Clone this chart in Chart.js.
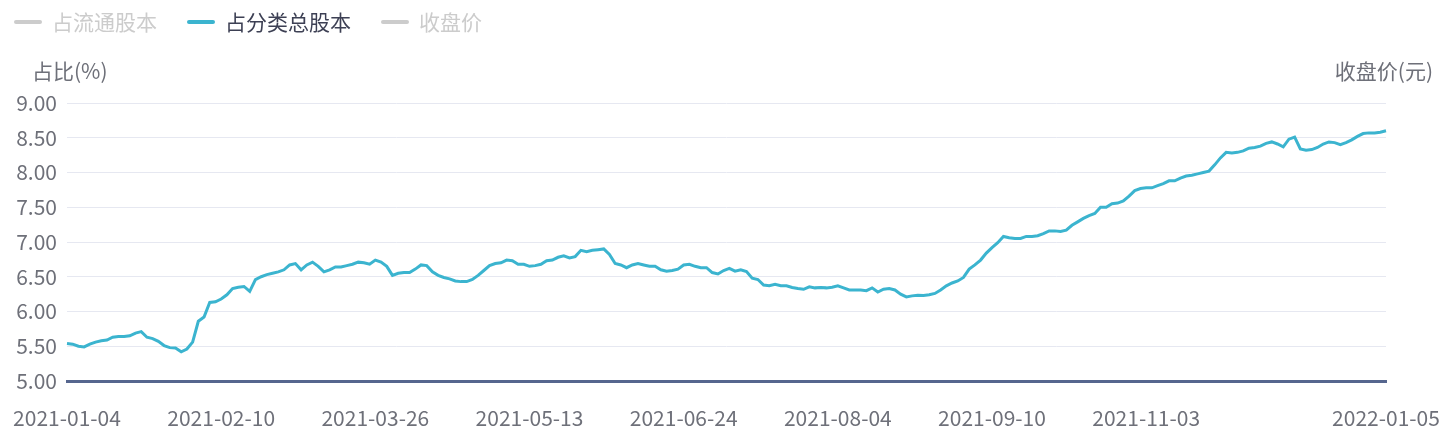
<!DOCTYPE html>
<html>
<head>
<meta charset="utf-8">
<script src="https://cdn.jsdelivr.net/npm/chart.js@4.4.0/dist/chart.umd.min.js"></script>
<style>
  html, body { margin: 0; padding: 0; background: #fff; }
  #wrap { width: 1452px; height: 444px; }
</style>
</head>
<body>
<div id="wrap"><canvas id="myChart" width="1452" height="444"></canvas></div>
<script>
// trading days (Stock Connect) from 2021-01-04 to 2022-01-05
const startDay = '2021-01-04';
const endDay = '2022-01-05';
const closedDays = [
  '2021-01-01', '2021-02-11', '2021-02-12', '2021-02-15', '2021-02-16', '2021-02-17',
  '2021-04-02', '2021-04-05', '2021-04-06', '2021-04-30', '2021-05-03', '2021-05-04', '2021-05-05',
  '2021-05-19', '2021-06-11', '2021-06-14', '2021-07-01', '2021-07-02',
  '2021-09-20', '2021-09-21', '2021-09-22', '2021-09-30', '2021-10-01', '2021-10-04', '2021-10-05',
  '2021-10-06', '2021-10-07', '2021-10-13', '2021-10-14', '2021-12-24', '2021-12-27', '2022-01-03'
];
const tickDates = ['2021-01-04', '2021-02-10', '2021-03-26', '2021-05-13', '2021-06-24',
  '2021-08-04', '2021-09-10', '2021-11-03', '2022-01-05'];

const seriesNames = ['占流通股本', '占分类总股本', '收盘价'];
const hiddenSeries = [true, false, true];

// 占分类总股本 (%)
const shareOfTotal = [
  5.54, 5.53, 5.50, 5.49, 5.53, 5.56, 5.58, 5.59, 5.63, 5.64,
  5.64, 5.65, 5.69, 5.71, 5.63, 5.61, 5.57, 5.51, 5.48, 5.475,
  5.42, 5.46, 5.56, 5.86, 5.92, 6.13, 6.14, 6.18, 6.24, 6.33,
  6.35, 6.36, 6.29, 6.46, 6.50, 6.53, 6.55, 6.57, 6.60, 6.67,
  6.69, 6.60, 6.67, 6.71, 6.65, 6.57, 6.60, 6.64, 6.64, 6.66,
  6.68, 6.71, 6.70, 6.68, 6.74, 6.71, 6.65, 6.52, 6.55, 6.56,
  6.56, 6.61, 6.67, 6.66, 6.57, 6.52, 6.49, 6.47, 6.44, 6.43,
  6.43, 6.46, 6.52, 6.59, 6.66, 6.69, 6.70, 6.74, 6.73, 6.68,
  6.68, 6.65, 6.66, 6.68, 6.73, 6.74, 6.78, 6.80, 6.77, 6.79,
  6.88, 6.86, 6.88, 6.89, 6.90, 6.82, 6.69, 6.67, 6.63, 6.67,
  6.69, 6.67, 6.65, 6.65, 6.60, 6.58, 6.59, 6.61, 6.67, 6.68,
  6.65, 6.63, 6.63, 6.56, 6.54, 6.59, 6.62, 6.58, 6.60, 6.575,
  6.48, 6.46, 6.38, 6.37, 6.39, 6.37, 6.37, 6.345, 6.33, 6.32,
  6.355, 6.34, 6.345, 6.34, 6.35, 6.37, 6.34, 6.31, 6.31, 6.31,
  6.30, 6.34, 6.28, 6.32, 6.33, 6.31, 6.25, 6.21, 6.225, 6.235,
  6.23, 6.24, 6.26, 6.31, 6.37, 6.41, 6.44, 6.49, 6.61, 6.67,
  6.74, 6.84, 6.92, 6.99, 7.08, 7.06, 7.05, 7.05, 7.08, 7.08,
  7.09, 7.12, 7.16, 7.16, 7.15, 7.17, 7.24, 7.29, 7.34, 7.38,
  7.41, 7.50, 7.50, 7.55, 7.56, 7.59, 7.66, 7.74, 7.77, 7.78,
  7.78, 7.81, 7.84, 7.88, 7.88, 7.92, 7.95, 7.96, 7.98, 8.00,
  8.02, 8.11, 8.21, 8.29, 8.28, 8.29, 8.31, 8.35, 8.36, 8.38,
  8.42, 8.44, 8.41, 8.37, 8.48, 8.51, 8.34, 8.32, 8.33, 8.36,
  8.41, 8.44, 8.43, 8.40, 8.43, 8.47, 8.52, 8.56, 8.57, 8.57,
  8.58, 8.60
];

const yMin = 5, yMax = 9, yStep = 0.5;

function buildDays() {
  const out = [];
  const d = new Date(startDay + 'T00:00:00Z');
  const end = new Date(endDay + 'T00:00:00Z');
  while (d <= end) {
    const s = d.toISOString().slice(0, 10);
    const wd = d.getUTCDay();
    if (wd !== 0 && wd !== 6 && !closedDays.includes(s)) out.push(s);
    d.setUTCDate(d.getUTCDate() + 1);
  }
  return out;
}
const days = buildDays();

const FONT = '"Noto Sans CJK SC", "Noto Sans", sans-serif';
const lineColor = '#3bb4cf';
const offColor = '#cccccc';
const axisTextColor = '#6e7079';

// legend + axis names drawn by hand (echarts look)
const extras = {
  id: 'extras',
  afterDraw(chart) {
    const {ctx, chartArea} = chart;
    ctx.save();
    ctx.font = '21px ' + FONT;
    ctx.textBaseline = 'middle';

    let x = 14;
    const y = 22;
    chart.data.datasets.forEach((ds, i) => {
      const off = hiddenSeries[i];
      ctx.strokeStyle = off ? offColor : lineColor;
      ctx.lineWidth = 4;
      ctx.lineCap = 'round';
      ctx.beginPath();
      ctx.moveTo(x + 2, y);
      ctx.lineTo(x + 26, y);
      ctx.stroke();
      ctx.fillStyle = off ? offColor : '#3d4054';
      ctx.textAlign = 'left';
      ctx.fillText(ds.label, x + 38, y);
      x += 38 + ctx.measureText(ds.label).width + 30;
    });

    ctx.fillStyle = axisTextColor;
    ctx.textAlign = 'left';
    ctx.fillText('占比(%)', chartArea.left - 35, chartArea.top - 32);
    ctx.textAlign = 'right';
    ctx.fillText('收盘价(元)', chartArea.right + 47, chartArea.top - 32);
    ctx.restore();
  }
};

new Chart(document.getElementById('myChart'), {
  type: 'line',
  data: {
    labels: days,
    datasets: seriesNames.map((name, i) => ({
      label: name,
      data: i === 1 ? shareOfTotal : [],
      hidden: hiddenSeries[i],
      yAxisID: i === 2 ? 'y1' : 'y',
      borderColor: lineColor,
      borderWidth: 3,
      pointRadius: 0,
      tension: 0,
      fill: false
    }))
  },
  options: {
    responsive: false,
    animation: false,
    layout: { padding: { top: 103, right: 66, bottom: 0, left: 0 } },
    plugins: {
      legend: { display: false },
      tooltip: { enabled: false }
    },
    scales: {
      x: {
        offset: false,
        afterFit: (s) => { s.height = 63; },
        grid: { display: true, drawOnChartArea: false, drawTicks: true, tickLength: 21, tickColor: 'rgba(0,0,0,0)' },
        border: { display: true, color: '#56668e', width: 3 },
        ticks: {
          autoSkip: false,
          maxRotation: 0,
          padding: 3,
          color: axisTextColor,
          font: { family: FONT, size: 21 },
          callback: function (v) {
            const d = this.getLabelForValue(v);
            return tickDates.includes(d) ? d : '';
          }
        }
      },
      y: {
        min: yMin,
        max: yMax,
        afterFit: (s) => { s.width = 67; },
        grid: {
          drawTicks: false,
          color: (c) => (c.tick && c.tick.value === yMin ? 'rgba(0,0,0,0)' : '#e6e8f1')
        },
        border: { display: false },
        ticks: {
          stepSize: yStep,
          padding: 10,
          color: axisTextColor,
          font: { family: FONT, size: 21 },
          callback: (v) => v.toFixed(2)
        }
      },
      y1: { position: 'right', display: false }
    }
  },
  plugins: [extras]
});
</script>
</body>
</html>
